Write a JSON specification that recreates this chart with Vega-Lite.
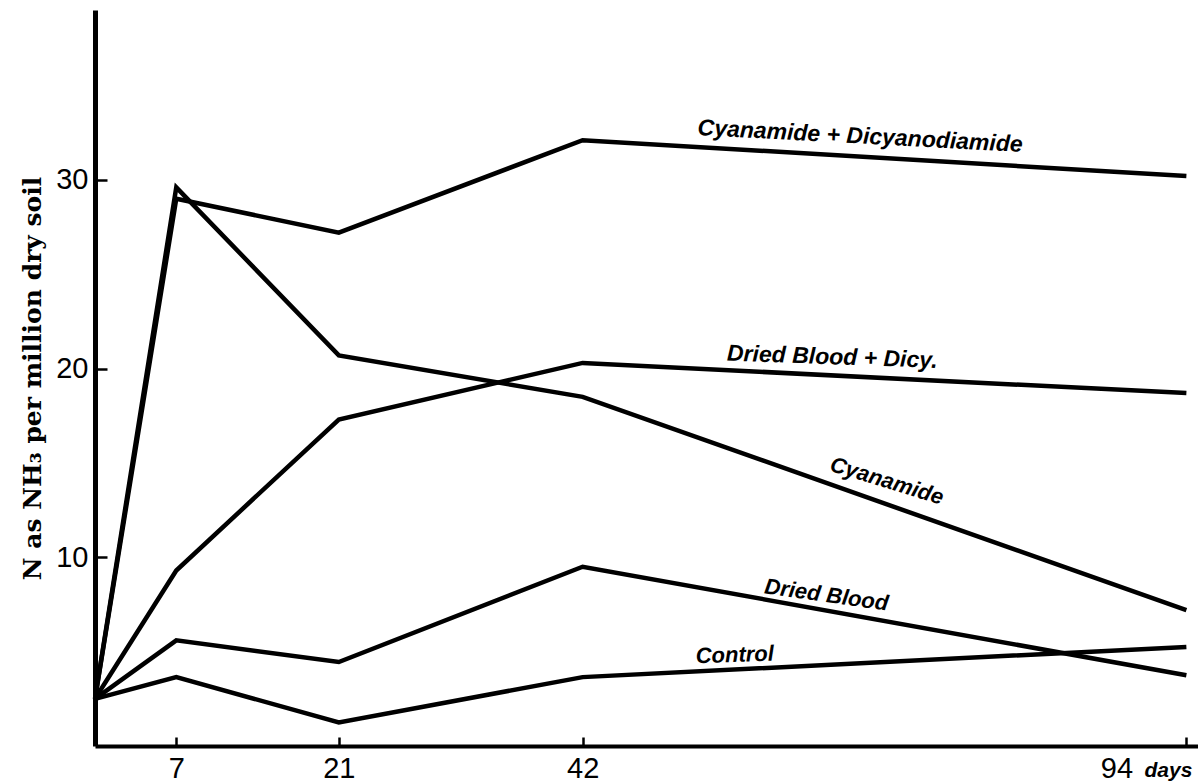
{
  "$schema": "https://vega.github.io/schema/vega-lite/v6.json",
  "width": 1103,
  "height": 736,
  "autosize": {"type": "none"},
  "padding": {"left": 95, "top": 10, "right": 0, "bottom": 37},
  "background": "white",
  "config": {"view": {"stroke": null}},
  "datasets": {
    "series": [
      {"series": "Cyanamide + Dicyanodiamide", "day": 0, "value": 2.5},
      {"series": "Cyanamide + Dicyanodiamide", "day": 7, "value": 29.0},
      {"series": "Cyanamide + Dicyanodiamide", "day": 21, "value": 27.2},
      {"series": "Cyanamide + Dicyanodiamide", "day": 42, "value": 32.1},
      {"series": "Cyanamide + Dicyanodiamide", "day": 94, "value": 30.2},
      {"series": "Cyanamide", "day": 0, "value": 2.5},
      {"series": "Cyanamide", "day": 7, "value": 29.6},
      {"series": "Cyanamide", "day": 21, "value": 20.7},
      {"series": "Cyanamide", "day": 42, "value": 18.5},
      {"series": "Cyanamide", "day": 94, "value": 7.2},
      {"series": "Dried Blood + Dicy.", "day": 0, "value": 2.5},
      {"series": "Dried Blood + Dicy.", "day": 7, "value": 9.3},
      {"series": "Dried Blood + Dicy.", "day": 21, "value": 17.3},
      {"series": "Dried Blood + Dicy.", "day": 42, "value": 20.3},
      {"series": "Dried Blood + Dicy.", "day": 94, "value": 18.7},
      {"series": "Dried Blood", "day": 0, "value": 2.5},
      {"series": "Dried Blood", "day": 7, "value": 5.6},
      {"series": "Dried Blood", "day": 21, "value": 4.45},
      {"series": "Dried Blood", "day": 42, "value": 9.5},
      {"series": "Dried Blood", "day": 94, "value": 3.75},
      {"series": "Control", "day": 0, "value": 2.5},
      {"series": "Control", "day": 7, "value": 3.65},
      {"series": "Control", "day": 21, "value": 1.25},
      {"series": "Control", "day": 42, "value": 3.65},
      {"series": "Control", "day": 94, "value": 5.25}
    ],
    "labels": [
      {"label": "Cyanamide + Dicyanodiamide", "day": 65.9, "value": 32.3},
      {"label": "Dried Blood + Dicy.", "day": 63.5, "value": 20.6},
      {"label": "Cyanamide", "day": 68.2, "value": 14.05},
      {"label": "Dried Blood", "day": 63.0, "value": 8.0},
      {"label": "Control", "day": 55.1, "value": 4.83}
    ]
  },
  "layer": [
    {
      "data": {"name": "series"},
      "mark": {"type": "line", "color": "black", "strokeWidth": 4.5, "strokeJoin": "miter", "strokeMiterLimit": 4},
      "encoding": {
        "x": {
          "field": "day", "type": "quantitative",
          "scale": {"domain": [0, 95], "nice": false, "zero": false},
          "axis": {
            "values": [7, 21, 42, 94],
            "grid": false,
            "domainColor": "black", "domainWidth": 4,
            "tickColor": "black", "tickWidth": 2.5, "tickSize": -9,
            "labelFont": "Liberation Sans", "labelFontSize": 29, "labelColor": "black",
            "labelPadding": 17,
            "labelOffset": {"condition": {"test": "datum.value == 94", "value": -70}, "value": 0},
            "title": "days",
            "titleFont": "Liberation Sans", "titleFontStyle": "italic", "titleFontWeight": "bold",
            "titleFontSize": 21, "titleColor": "black",
            "titleAlign": "left", "titleBaseline": "alphabetic",
            "titleX": 1049, "titleY": 30
          }
        },
        "y": {
          "field": "value", "type": "quantitative",
          "scale": {"domain": [0, 39], "nice": false},
          "axis": {
            "values": [10, 20, 30],
            "grid": false,
            "domainColor": "black", "domainWidth": 5,
            "tickColor": "black", "tickWidth": 2.5, "tickSize": -12,
            "labelFont": "Liberation Sans", "labelFontSize": 29, "labelColor": "black",
            "labelPadding": 19,
            "title": "N as NH₃ per million dry soil",
            "titleFont": "DejaVu Serif", "titleFontWeight": "bold", "titleFontSize": 25,
            "titleColor": "black", "titlePadding": 10
          }
        },
        "detail": {"field": "series"}
      }
    },
    {
      "data": {"name": "labels"},
      "transform": [{"filter": "datum.label == 'Cyanamide + Dicyanodiamide'"}],
      "mark": {"type": "text", "angle": 3, "font": "Liberation Sans", "fontStyle": "italic", "fontWeight": "bold", "fontSize": 23, "color": "black"},
      "encoding": {"x": {"field": "day", "type": "quantitative"}, "y": {"field": "value", "type": "quantitative"}, "text": {"field": "label"}}
    },
    {
      "data": {"name": "labels"},
      "transform": [{"filter": "datum.label == 'Dried Blood + Dicy.'"}],
      "mark": {"type": "text", "angle": 2, "font": "Liberation Sans", "fontStyle": "italic", "fontWeight": "bold", "fontSize": 23, "color": "black"},
      "encoding": {"x": {"field": "day", "type": "quantitative"}, "y": {"field": "value", "type": "quantitative"}, "text": {"field": "label"}}
    },
    {
      "data": {"name": "labels"},
      "transform": [{"filter": "datum.label == 'Cyanamide'"}],
      "mark": {"type": "text", "angle": 17, "font": "Liberation Sans", "fontStyle": "italic", "fontWeight": "bold", "fontSize": 22, "color": "black"},
      "encoding": {"x": {"field": "day", "type": "quantitative"}, "y": {"field": "value", "type": "quantitative"}, "text": {"field": "label"}}
    },
    {
      "data": {"name": "labels"},
      "transform": [{"filter": "datum.label == 'Dried Blood'"}],
      "mark": {"type": "text", "angle": 8, "font": "Liberation Sans", "fontStyle": "italic", "fontWeight": "bold", "fontSize": 22, "color": "black"},
      "encoding": {"x": {"field": "day", "type": "quantitative"}, "y": {"field": "value", "type": "quantitative"}, "text": {"field": "label"}}
    },
    {
      "data": {"name": "labels"},
      "transform": [{"filter": "datum.label == 'Control'"}],
      "mark": {"type": "text", "angle": -2, "font": "Liberation Sans", "fontStyle": "italic", "fontWeight": "bold", "fontSize": 22, "color": "black"},
      "encoding": {"x": {"field": "day", "type": "quantitative"}, "y": {"field": "value", "type": "quantitative"}, "text": {"field": "label"}}
    }
  ]
}
